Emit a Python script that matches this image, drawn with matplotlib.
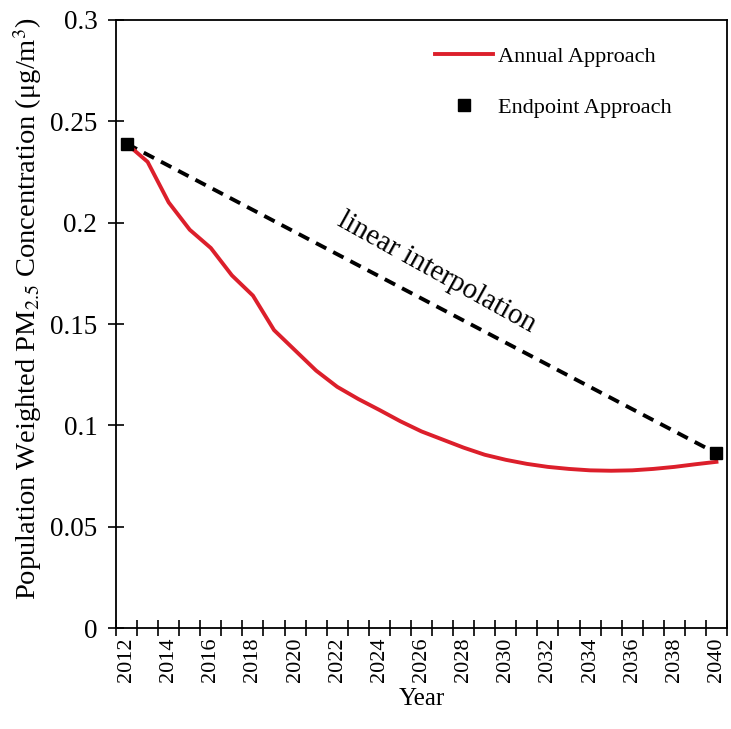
import matplotlib.pyplot as plt
from matplotlib.ticker import MultipleLocator, FormatStrFormatter

plt.rcParams['font.family'] = ['Liberation Serif', 'DejaVu Serif']
plt.rcParams['mathtext.fontset'] = 'stix'

years = list(range(2012, 2041))
annual = [0.239, 0.230, 0.210, 0.1965, 0.1875, 0.174, 0.164, 0.147, 0.137, 0.127,
          0.119, 0.113, 0.1076, 0.102, 0.097, 0.093, 0.089, 0.0855, 0.083, 0.081,
          0.0795, 0.0785, 0.0778, 0.0776, 0.0778, 0.0785, 0.0795, 0.0808, 0.082]
end_years = [2012, 2040]
endpoint = [0.239, 0.0862]

fig = plt.figure(figsize=(7.31, 7.29), dpi=100)
ax = fig.add_axes([0.1587, 0.1385, 0.8358, 0.8341])

ax.plot(years, annual, color='#dc1f2b', lw=2.8, label='Annual Approach', zorder=3)
ax.plot(end_years, endpoint, color='black', lw=2.8, ls=(0, (3, 2)), zorder=2)
ax.plot(end_years, endpoint, ls='none', marker='s', ms=9, color='black',
        label='Endpoint Approach', zorder=4)

ax.text(2026.7, 0.1755, 'linear interpolation', fontsize=21, rotation=-29,
        ha='center', va='center', rotation_mode='anchor')

ax.set_xlim(2011.5, 2040.5)
ax.set_ylim(0, 0.3)
ax.set_xticks(years[::2])
ax.set_xticks([y + 0.5 for y in range(2011, 2041)], minor=True)
ax.tick_params(axis='x', which='major', length=0, pad=7, labelsize=16, labelrotation=90)
ax.tick_params(axis='x', which='minor', direction='inout', length=11, width=1.2)
ax.yaxis.set_major_locator(MultipleLocator(0.05))
ax.yaxis.set_major_formatter(FormatStrFormatter('%g'))
ax.tick_params(axis='y', direction='inout', length=11, width=1.2, labelsize=19.5, pad=8)
for s in ax.spines.values():
    s.set_linewidth(1.3)

ax.set_xlabel('Year', fontsize=18, labelpad=4)
ax.set_ylabel('Population Weighted PM$_{2.5}$ Concentration (μg/m$^3$)', fontsize=20.5,
              labelpad=4, y=0.526)

ax.legend(loc='upper left', bbox_to_anchor=(0.595, 0.936), bbox_transform=fig.transFigure,
          frameon=False, fontsize=16, handlelength=2.6, handletextpad=0.22,
          labelspacing=1.36, borderpad=0, borderaxespad=0)

fig.savefig('out.png', dpi=100)
